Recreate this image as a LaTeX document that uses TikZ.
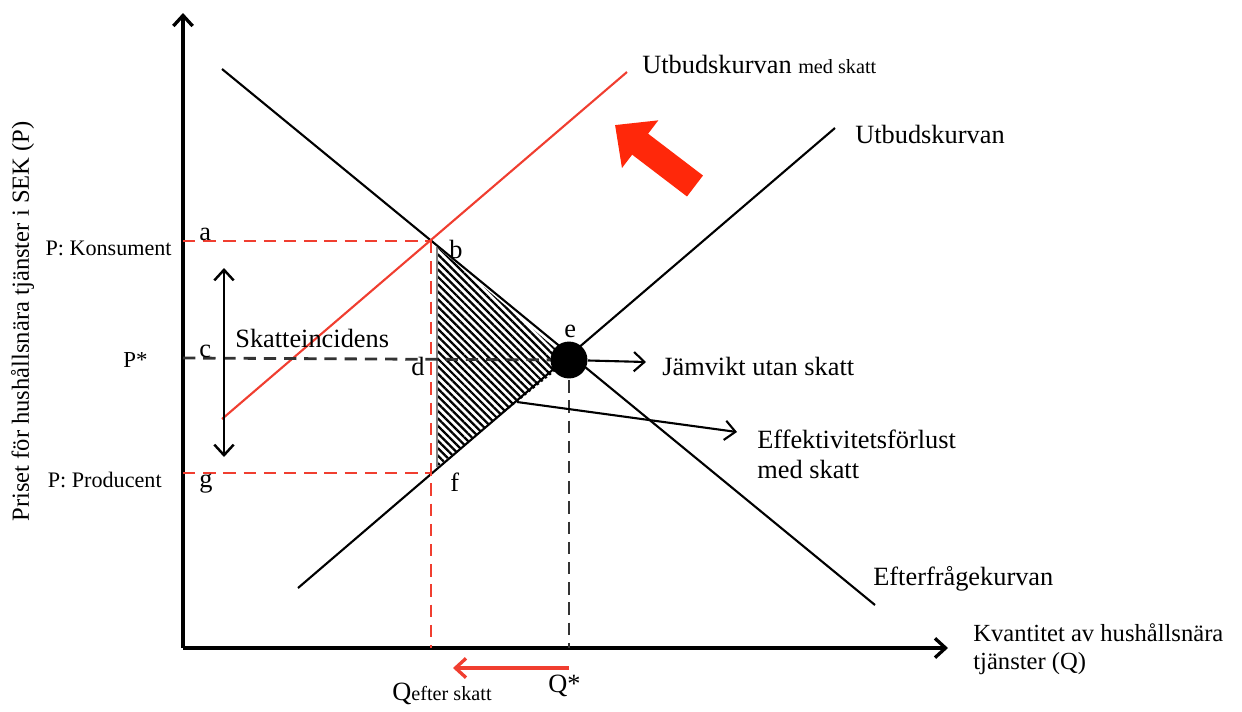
\documentclass[tikz,border=0pt]{standalone}
\usepackage{fontspec}
\setmainfont{Liberation Serif}
\usetikzlibrary{arrows.meta,patterns.meta,positioning}
\definecolor{taxred}{RGB}{240,62,48}
\definecolor{bigred}{RGB}{255,40,10}

\begin{document}
\begin{tikzpicture}[x=0.02cm,y=-0.02cm,>={Straight Barb[length=6pt,width=11pt]},
                    axis line/.style={line width=1.9pt,->},
                    curve/.style={line width=1.2pt},
                    guide/.style={line width=1.6pt,dash pattern=on 7pt off 4.5pt},
                    label node/.style={inner sep=0pt,anchor=base west,font=\fontsize{15}{17}\selectfont},
                    price node/.style={inner sep=0pt,anchor=base east,font=\fontsize{12.6}{15}\selectfont}]

  \useasboundingbox (0,0) rectangle (1242,711);

  \coordinate (O) at (183,648);
  \coordinate (ytop) at (183,13);
  \coordinate (xend) at (948,648);

  \coordinate (dem1) at (222,69);
  \coordinate (dem2) at (875,605);
  \coordinate (sup1) at (298,588);
  \coordinate (sup2) at (835,128);
  \coordinate (tax1) at (222,419);
  \coordinate (tax2) at (627,72);

  \coordinate (A) at (183,241);
  \coordinate (B) at (431,241);
  \coordinate (C) at (183,358);
  \coordinate (E) at (569,360);
  \coordinate (F) at (431,473);
  \coordinate (G) at (183,473);
  \coordinate (Qt) at (431,648);
  \coordinate (Qs) at (569,648);
  \coordinate (bh) at (437,247);
  \coordinate (fh) at (437,467);

  % hatched loss
  \fill[pattern={Lines[angle=-45,distance=3pt,line width=1.3pt]}] (bh) -- (E) -- (fh) -- cycle;
  \path[gray,line width=0.8pt] (bh) edge (fh);

  \path[axis line]
  (O) edge (ytop)
  (O) edge (xend);

  \path[curve]
  (dem1) edge (dem2)
  (sup1) edge (sup2);

  \path[curve,taxred]
  (tax1) edge (tax2);

  \path[guide,taxred]
  (A) edge (B)
  (G) edge (F)
  (B) edge (Qt);

  \path[guide,black!80]
  (C) edge (E)
  (E) edge (Qs);

  \node[circle,fill=black,minimum size=21pt,inner sep=0pt] (edot) at (E) {};

  % shift of the supply curve
  \coordinate (shifttail) at (695,186);
  \coordinate (shifttip) at (615,125);
  \path[bigred,line width=15pt,-{Triangle[length=18pt,width=33pt]}]
  (shifttail) edge (shifttip);

  % point labels
  \node[label node] (la) at (199,240) {a};
  \node[label node] (lb) at (449,258) {b};
  \node[label node] (lc) at (199,357) {c};
  \node[label node] (ld) at (411,375) {d};
  \node[label node] (le) at (564,337) {e};
  \node[label node] (lf) at (450,491) {f};
  \node[label node] (lg) at (199,487) {g};

  \node[price node] (pk) at (172,255) {P: Konsument};
  \node[label node,font=\fontsize{13}{15}\selectfont] (pstar) at (123,367) {P*};
  \node[price node] (pp) at (162,487) {P: Producent};

  \node[inner sep=0pt,rotate=90,anchor=base west,font=\fontsize{14}{16}\selectfont] (ylab)
    at (29,522) {Priset för hushållsnära tjänster i SEK (P)};

  \coordinate (inctop) at (224,268);
  \coordinate (incbot) at (224,457);
  \path[line width=1.4pt,<->] (inctop) edge (incbot);
  \node[label node] (inc) at (235,347) {Skatteincidens};

  \node[label node] (taxsup) at (642,73) {Utbudskurvan {\fontsize{11.5}{13}\selectfont med skatt}};
  \node[label node] (sup) at (855,143) {Utbudskurvan};
  \node[label node] (dem) at (873,585) {Efterfrågekurvan};

  \coordinate (jvtip) at (646,362);
  \node[label node] (jv) at (662,375) {Jämvikt utan skatt};
  \path[line width=1.2pt,->] (edot) edge (jvtip);

  \coordinate (losspt) at (517,402);
  \coordinate (losstip) at (737,432);
  \node[label node,anchor=north west,align=left] (eff) at (757,430) {Effektivitetsförlust\\med skatt};
  \path[line width=1.2pt,->] (losspt) edge (losstip);

  \node[label node,anchor=north west,align=left,font=\fontsize{14}{16}\selectfont] (xlab)
    at (973,623) {Kvantitet av hushållsnära\\tjänster (Q)};

  \coordinate (qstart) at (569,668);
  \coordinate (qend) at (453,668);
  \path[taxred,line width=1.9pt,->] (qstart) edge (qend);

  \node[label node] (qstar) at (548,692) {Q*};
  \node[label node] (qafter) at (392,700) {Q{\fontsize{11.5}{13}\selectfont efter skatt}};

\end{tikzpicture}
\end{document}
